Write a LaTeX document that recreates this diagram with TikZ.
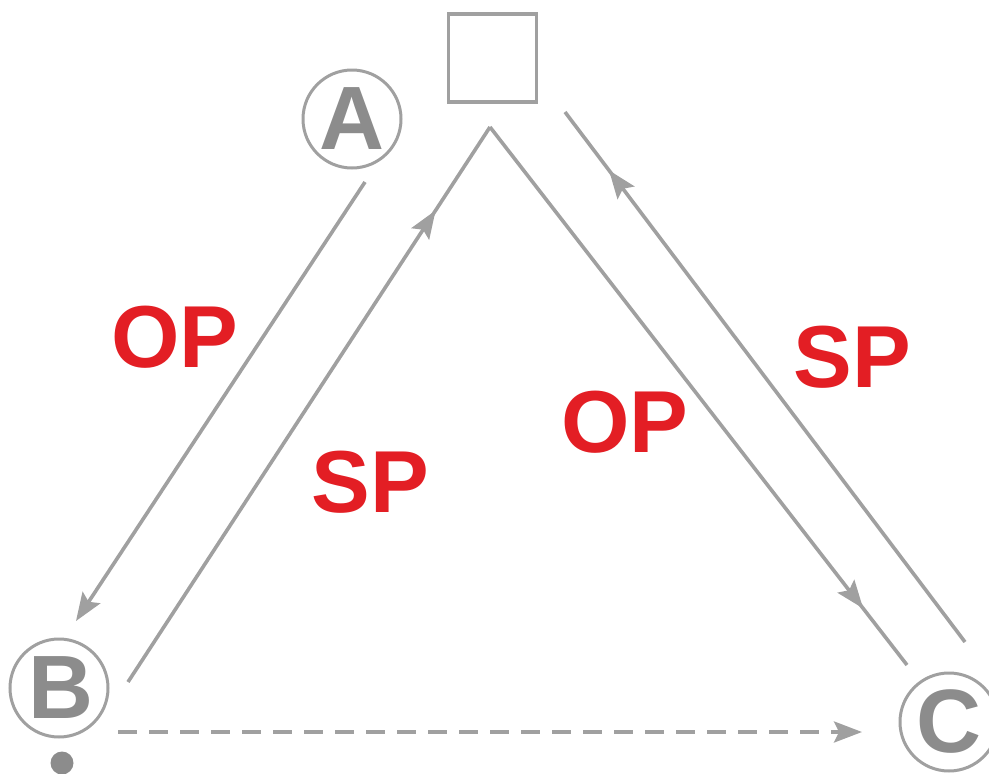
\documentclass[tikz,border=0pt]{standalone}
\usepackage{fontspec}
\setmainfont{Liberation Sans}
\usetikzlibrary{arrows.meta,decorations.markings}
\definecolor{linegray}{HTML}{A0A0A0}
\definecolor{lettergray}{HTML}{8C8C8C}
\definecolor{labelred}{HTML}{E31E24}
\tikzset{
  x=1pt, y=-1pt,
  head/.tip={Stealth[length=28pt,width=21pt,inset=5pt]},
  tip/.style={-head},
  conn/.style={draw=linegray, line width=3.6pt},
  station/.style={circle, draw=linegray, line width=3pt, minimum size=98pt, inner sep=0pt,
    text=lettergray, font=\fontsize{90}{90}\selectfont\bfseries},
  tag/.style={text=labelred, font=\fontsize{88}{88}\selectfont\bfseries, inner sep=0pt},
  midtip/.style={postaction={decorate}, decoration={markings,
    mark=at position #1 with {\arrow{head}}}}
}
\begin{document}
\begin{tikzpicture}
\useasboundingbox (0,0) rectangle (989,774);
% stations
\node[station] (A) at (352,119) {A};
\node[station] (B) at (59,688) {\hspace*{4pt}B};
\node[station] (C) at (949,722) {C};
\node[draw=linegray, line width=3.2pt, minimum size=88pt, inner sep=0pt] (sq) at (492.5,58) {};
\node[circle, fill=lettergray, minimum size=23pt, inner sep=0pt] (dot) at (62,763) {};
% connector ends
\coordinate (a1) at (365,182);
\coordinate (b1) at (76,621);
\coordinate (b2) at (128,682);
\coordinate (apex) at (490,127);
\coordinate (c1) at (907,665);
\coordinate (c2) at (965,642);
\coordinate (s1) at (565,112);
\coordinate (b3) at (118,732);
\coordinate (c3) at (862,732);
% paths
\draw[conn, tip] (a1) -- (b1);
\draw[conn, midtip=0.85] (b2) -- (apex);
\draw[conn, midtip=0.895] (apex) -- (c1);
\draw[conn, midtip=0.89] (c2) -- (s1);
\draw[conn, tip, dash pattern=on 19pt off 12pt] (b3) -- (c3);
% labels
\node[tag] (op1) at (175,337) {OP};
\node[tag] (sp1) at (370,482) {SP};
\node[tag] (op2) at (625,422) {OP};
\node[tag] (sp2) at (852,357) {SP};
\end{tikzpicture}
\end{document}
